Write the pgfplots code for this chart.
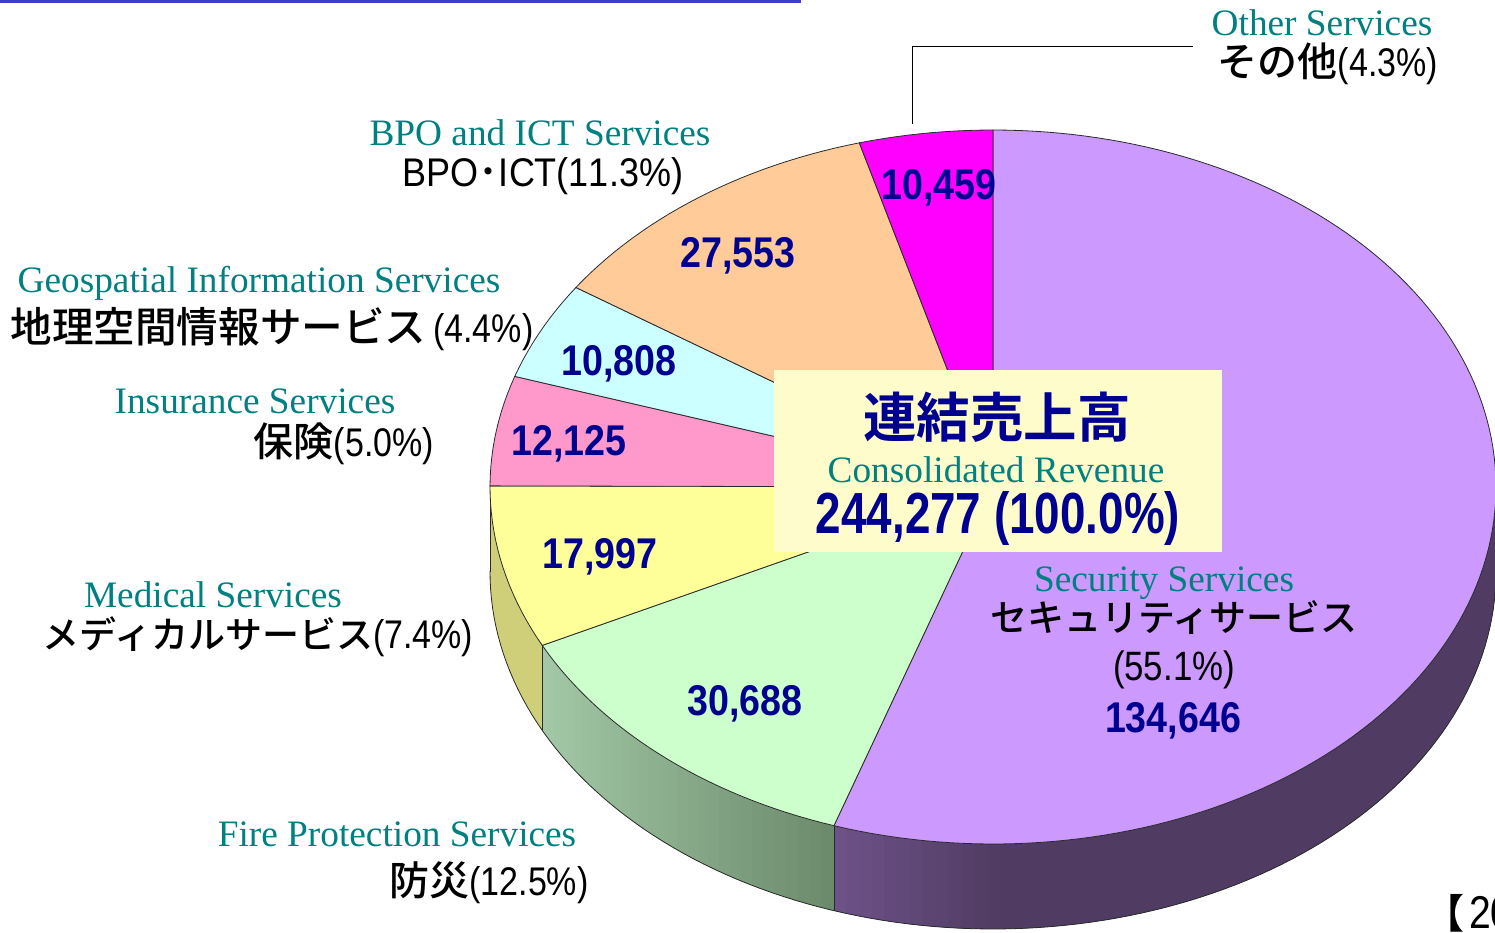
\documentclass[border=0pt]{standalone}
\usepackage{pgfplots}
\pgfplotsset{compat=1.18}
\usepackage{fontspec}
\setmainfont{Liberation Sans}
\newfontfamily\en{Liberation Serif}
\newfontfamily\jpn{Noto Sans CJK JP Medium}
\newfontfamily\jpb[BoldFont={Noto Sans CJK JP Bold}]{Noto Sans CJK JP}
\newfontfamily\lat[FakeStretch=0.85,Kerning=Off]{Liberation Sans}
\newfontfamily\latw[FakeStretch=0.90,Kerning=Off]{Liberation Sans}
\newfontfamily\num[FakeStretch=0.875,Kerning=Off]{Liberation Sans Bold}
\newfontfamily\numb[FakeStretch=0.79,Kerning=Off]{Liberation Sans Bold}
\definecolor{teal2}{HTML}{008080}
\definecolor{navy2}{HTML}{000090}
\definecolor{edge}{HTML}{2A2A2A}
\definecolor{sec}{HTML}{CC99FF}
\definecolor{fire}{HTML}{CCFFCC}
\definecolor{med}{HTML}{FFFF99}
\definecolor{ins}{HTML}{FF99CC}
\definecolor{geo}{HTML}{CCFFFF}
\definecolor{bpo}{HTML}{FFCC99}
\definecolor{oth}{HTML}{FF00FF}
\definecolor{secA}{HTML}{6E5289}
\definecolor{secB}{HTML}{503C62}
\definecolor{fireA}{HTML}{A3C9A6}
\definecolor{fireB}{HTML}{6B8A6B}
\definecolor{medS}{HTML}{CFCF7A}
\definecolor{rule}{HTML}{3C3CCF}
\def\cx{993}\def\cy{487}\def\rx{503}\def\ry{357}\def\dep{85}
\def\total{244.276}
% values in thousands: Security, Fire, Medical, Insurance, Geospatial, BPO, Other
\def\vA{134.646}\def\vB{30.688}\def\vC{17.997}\def\vD{12.125}\def\vE{10.808}\def\vF{27.553}\def\vG{10.459}
\newcommand\arcpts[2]{% start and end angle -> \pts
  \gdef\pts{}%
  \pgfmathtruncatemacro\nn{max(2,ceil(abs(#2-#1)/1.5))}%
  \foreach \i in {0,...,\nn}{%
    \pgfmathsetmacro\tta{#1+(#2-#1)/\nn*\i}%
    \pgfmathsetmacro\px{\cx+\rx*sin(\tta)}%
    \pgfmathsetmacro\py{\cy-\ry*cos(\tta)}%
    \xdef\pts{\pts (\px,\py)}%
  }%
}
\newcommand\botpts[2]{%
  \gdef\pts{}%
  \pgfmathtruncatemacro\nn{max(2,ceil(abs(#2-#1)/1.5))}%
  \foreach \i in {0,...,\nn}{%
    \pgfmathsetmacro\tta{#1+(#2-#1)/\nn*\i}%
    \pgfmathsetmacro\px{\cx+\rx*sin(\tta)}%
    \pgfmathsetmacro\py{\cy+\dep-\ry*cos(\tta)}%
    \xdef\pts{\pts (\px,\py)}%
  }%
}
\gdef\cum{0}
\newcommand\slice[2]{% value, colour
  \pgfmathsetmacro\sa{\cum/\total*360}%
  \pgfmathsetmacro\newcum{\cum+#1}%
  \xdef\cum{\newcum}%
  \pgfmathsetmacro\sb{\cum/\total*360}%
  \arcpts{\sa}{\sb}%
  \edef\tmp{\noexpand\addplot[fill=#2,draw=edge,line width=0.8pt] coordinates {(\cx,\cy)\pts} -- cycle;}\tmp
}
\newcommand\strips[6]{% t1 t2 colA colB xA xB: each strip runs on under the next one
  \pgfmathtruncatemacro\ns{ceil((#2-#1)/1.5)}%
  \foreach \j in {1,...,\ns}{%
    \pgfmathsetmacro\ta{#1+(#2-#1)/\ns*(\j-1)}%
    \pgfmathsetmacro\tb{#1+(#2-#1)/\ns*\j}%
    \pgfmathsetmacro\te{ifthenelse(\j<\ns,\tb+1.5,\tb)}%
    \pgfmathsetmacro\xa{\cx+\rx*sin(\ta)}%
    \pgfmathsetmacro\xb{\cx+\rx*sin(\te)}%
    \pgfmathsetmacro\xm{\cx+\rx*sin(\tb)}%
    \pgfmathsetmacro\ya{\cy-\ry*cos(\ta)}%
    \pgfmathsetmacro\yb{\cy-\ry*cos(\te)}%
    \pgfmathsetmacro\ym{\cy-\ry*cos(\tb)}%
    \pgfmathsetmacro\yc{\yb+\dep}%
    \pgfmathsetmacro\yn{\ym+\dep}%
    \pgfmathsetmacro\yd{\ya+\dep}%
    \pgfmathsetmacro\pc{max(0,min(100,((#6-(\xa+\xm)/2)/(#6-#5))*100))}%
    \edef\tmp{\noexpand\addplot[fill=#3!\pc!#4,draw=none] coordinates {(\xa,\ya)(\xm,\ym)(\xb,\yb)(\xb,\yc)(\xm,\yn)(\xa,\yd)} -- cycle;}\tmp
  }%
}
\newcommand\T[4]{\node[inner sep=0pt,anchor=center,#4] at (axis cs:#1,#2) {#3};}
\newcommand\EN[3]{\T{#1}{#2}{\color{teal2}\fontsize{37.3}{40}\selectfont\en #3}{}}
\newcommand\JP[3]{\T{#1}{#2}{\fontsize{40}{44}\selectfont\jpn #3}{}}
\newcommand\NUM[3]{\T{#1}{#2}{\color{navy2}\fontsize{43}{46}\selectfont\num #3}{}}
\newcommand\LL[1]{{\lat #1}}
\begin{document}
\begin{tikzpicture}
\useasboundingbox (0,0) rectangle (1495pt,933pt);
\clip (0,0) rectangle (1495pt,933pt);
\pgfmathsetmacro\aOne{\vA/\total*360}
\pgfmathsetmacro\aTwo{(\vA+\vB)/\total*360}
\begin{axis}[at={(0,0)},anchor=south west,scale only axis,width=1495pt,height=933pt,
  xmin=0,xmax=1495,ymin=0,ymax=933,y dir=reverse,axis lines=none,clip=true]
% top rule
\addplot[fill=rule,draw=none] coordinates {(0,0)(801,0)(801,3.5)(0,3.5)} -- cycle;
% side wall
\strips{90}{\aOne}{secA}{secB}{833}{1000}
\strips{\aOne}{\aTwo}{fireB}{fireA}{833}{541}
\strips{\aTwo}{270.2}{medS}{medS}{541}{489}
\botpts{90}{270.2}
\edef\tmp{\noexpand\addplot[draw=edge,line width=0.8pt] coordinates {\pts};}\tmp
\pgfmathsetmacro\xOne{\cx+\rx*sin(\aOne)}
\pgfmathsetmacro\yOne{\cy-\ry*cos(\aOne)}
\pgfmathsetmacro\yOneB{\yOne+\dep}
\pgfmathsetmacro\xTwo{\cx+\rx*sin(\aTwo)}
\pgfmathsetmacro\yTwo{\cy-\ry*cos(\aTwo)}
\pgfmathsetmacro\yTwoB{\yTwo+\dep}
\edef\tmp{\noexpand\addplot[draw=edge,line width=0.8pt] coordinates {(\xOne,\yOne)(\xOne,\yOneB)};}\tmp
\edef\tmp{\noexpand\addplot[draw=edge,line width=0.8pt] coordinates {(\xTwo,\yTwo)(\xTwo,\yTwoB)};}\tmp
\addplot[draw=edge,line width=0.8pt] coordinates {(490,487)(490,572)};
% top face
\slice{\vA}{sec}
\slice{\vB}{fire}
\slice{\vC}{med}
\slice{\vD}{ins}
\slice{\vE}{geo}
\slice{\vF}{bpo}
\slice{\vG}{oth}
% centre box
\addplot[fill=yellow!20!white,draw=none] coordinates {(774,370)(1222,370)(1222,552)(774,552)} -- cycle;
% leader
\addplot[draw=black,line width=1pt] coordinates {(912,124)(912,46.5)(1193,46.5)};
% labels
\EN{1322}{23}{Other Services}
\JP{1328}{64}{その他\LL{(4.3\%)}}
\EN{540}{133}{BPO and ICT Services}
\T{543}{176}{\fontsize{40}{44}\selectfont\jpn {\latw BPO}･{\latw ICT(11.3\%)}}{}
\EN{259}{283}{Geospatial Information Services}
\T{272}{329}{\fontsize{41.6}{44}\selectfont\jpn 地理空間情報サービス\fontsize{40}{44}\selectfont\,\LL{(4.4\%)}}{}
\EN{255}{401}{Insurance Services}
\JP{344}{444}{保険\LL{(5.0\%)}}
\EN{213}{595}{Medical Services}
\T{258}{637}{\fontsize{37}{40}\selectfont\jpn メディカルサービス\fontsize{40}{44}\selectfont\LL{(7.4\%)}}{}
\EN{397}{834}{Fire Protection Services}
\JP{489}{883}{防災\LL{(12.5\%)}}
\EN{1164}{583}{Security Services}
\T{1174}{618}{\fontsize{37}{40}\selectfont\jpn セキュリティサービス}{}
\T{1174}{670}{\fontsize{41}{44}\selectfont\LL{(55.1\%)}}{}
\NUM{939}{188}{10,459}
\NUM{738}{256}{27,553}
\NUM{619}{364}{10,808}
\NUM{569}{444}{12,125}
\NUM{600}{557}{17,997}
\NUM{745}{704}{30,688}
\NUM{1173}{721}{134,646}
\T{997}{417}{\color{navy2}\fontsize{53.5}{56}\selectfont\jpb\bfseries 連結売上高}{}
\T{996}{470}{\color{teal2}\fontsize{37.3}{40}\selectfont\en Consolidated Revenue}{}
\T{998}{519}{\color{navy2}\fontsize{58}{60}\selectfont\numb 244,277 (100.0\%)}{}
\node[inner sep=0pt,anchor=base west] at (axis cs:1424,928) {\fontsize{40}{44}\selectfont\jpb\bfseries 【\mdseries\hspace{5pt}\fontsize{46}{48}\selectfont\LL{20}};
\end{axis}
\end{tikzpicture}
\end{document}
